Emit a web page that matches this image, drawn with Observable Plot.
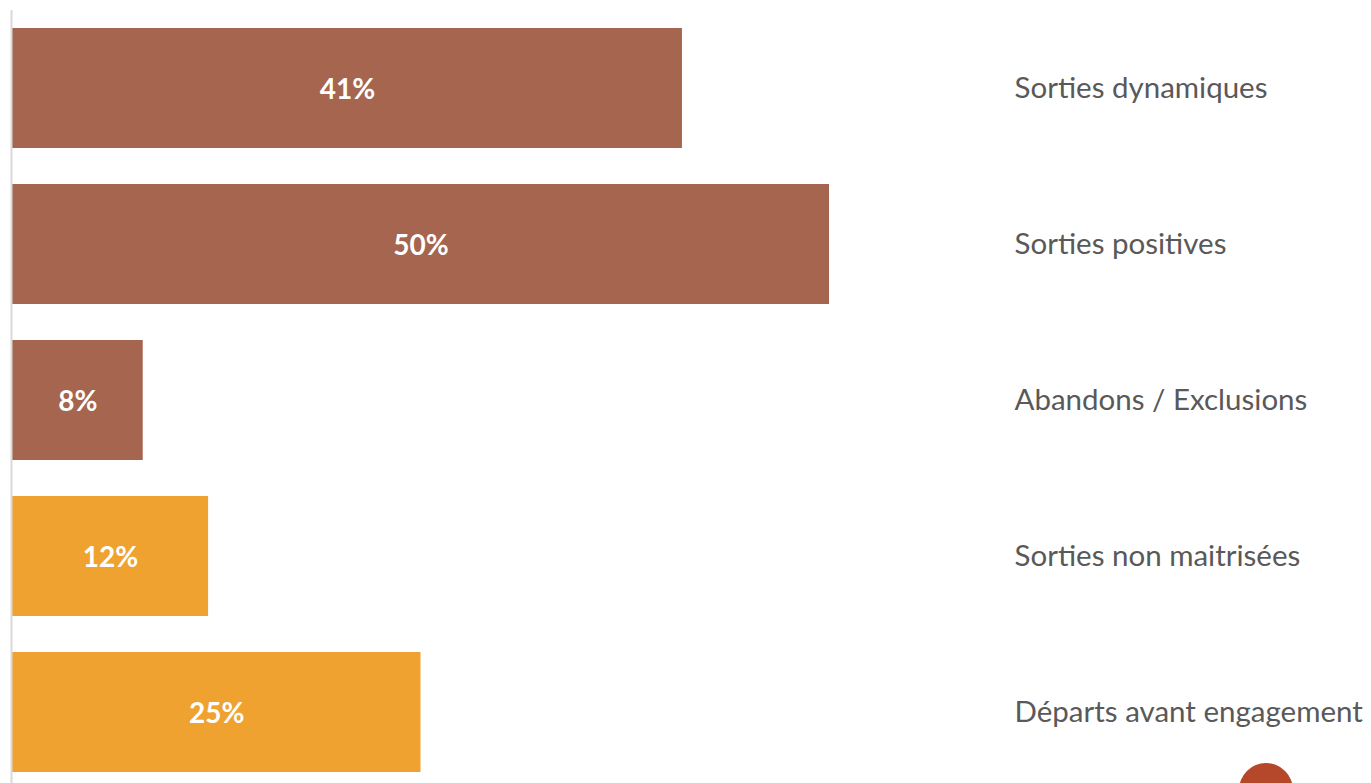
<!DOCTYPE html>
<html>
<head>
<meta charset="utf-8">
<script src="https://cdn.jsdelivr.net/npm/d3@7"></script>
<script src="https://cdn.jsdelivr.net/npm/@observablehq/plot@0.6"></script>
<style>
  html, body { margin: 0; padding: 0; background: #fff; overflow: hidden; }
  #wrap { position: relative; width: 1371px; height: 783px; }
  #badge { position: absolute; left: 1239px; top: 763px; width: 54px; height: 54px; border-radius: 50%; background: #B5472A; }
</style>
</head>
<body>
<div id="wrap"><div id="chart"></div><div id="badge"></div></div>
<script>
const categories = ["Sorties dynamiques", "Sorties positives", "Abandons / Exclusions", "Sorties non maitrisées", "Départs avant engagement"];
const values = [41, 50, 8, 12, 25];
const groups = ["sortie", "sortie", "sortie", "autre", "autre"];

const data = categories.map((c, i) => ({category: c, value: values[i], group: groups[i]}));

const chart = Plot.plot({
  width: 1371,
  height: 783,
  marginLeft: 12,
  marginRight: 542,
  marginTop: 28,
  marginBottom: 11,
  style: {fontFamily: "Lato, 'Open Sans', sans-serif", background: "#fff"},
  x: {domain: [0, 50], axis: null},
  y: {domain: categories, paddingInner: 0.2308, paddingOuter: 0, axis: null},
  color: {domain: ["sortie", "autre"], range: ["#A5654E", "#EFA22F"]},
  marks: [
    Plot.barX(data, {x: "value", y: "category", fill: "group"}),
    Plot.ruleX([0], {stroke: "#D9D9D9", strokeWidth: 2, dx: -1, insetTop: -18, insetBottom: -11}),
    Plot.text(data, {x: d => d.value / 2, y: "category", text: d => d.value + "%", fill: "white", fontWeight: "bold", fontSize: 28, dy: 2}),
    Plot.axisY({anchor: "right", tickSize: 0, tickPadding: 185, fontSize: 29.5, color: "#595959", textAnchor: "start", label: null})
  ]
});
document.getElementById("chart").append(chart);
</script>
</body>
</html>
